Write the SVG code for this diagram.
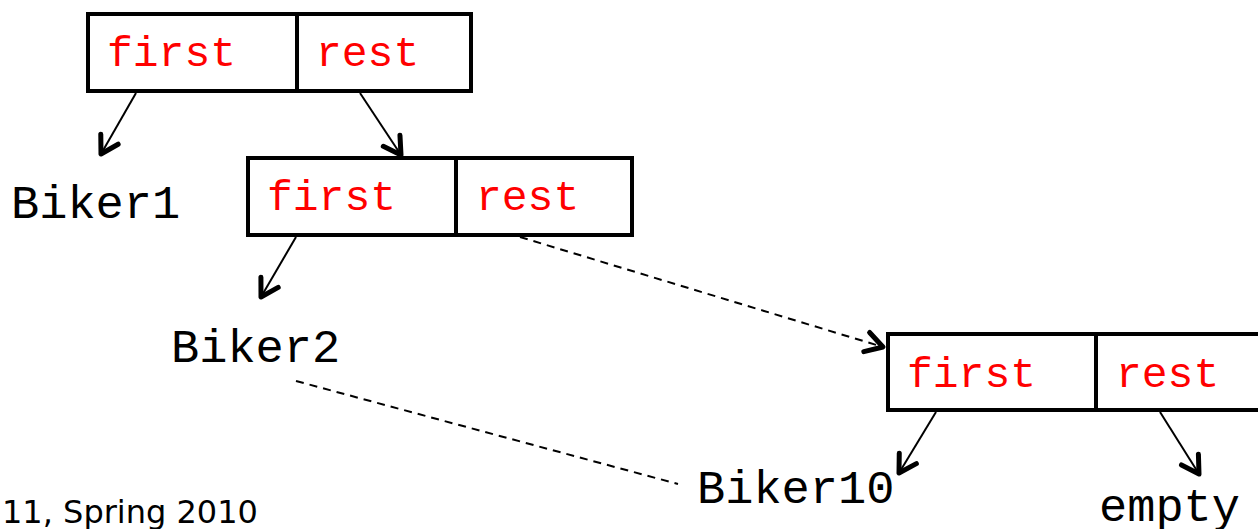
<svg xmlns="http://www.w3.org/2000/svg" width="1258" height="529" viewBox="0 0 1258 529">
<style>
.box{fill:#fff;stroke:#000;stroke-width:4}
.div{stroke:#000;stroke-width:4}
.fld{font-family:"Liberation Mono","Courier New",monospace;font-size:43px;fill:#ff0000}
.lbl{font-family:"Liberation Mono","Courier New",monospace;font-size:47px;fill:#000}
.foot{font-family:"DejaVu Sans",Verdana,sans-serif;font-size:32px;fill:#000}
.ln{stroke:#000;stroke-width:2;fill:none}
.dash{stroke:#000;stroke-width:2;fill:none;stroke-dasharray:8 6}
</style>
<defs>
<marker id="arr" viewBox="-22 -14 26 28" refX="0" refY="0" markerWidth="26" markerHeight="28" markerUnits="userSpaceOnUse" orient="auto">
<path d="M-17,-10 L0,0 L-17,10" fill="none" stroke="#000" stroke-width="5" stroke-linecap="round" stroke-linejoin="round"/>
</marker>
</defs>
<g id="cell1">
<rect class="box" x="88" y="14" width="383" height="77"/>
<line class="div" x1="297" y1="14" x2="297" y2="91"/>
<text class="fld" x="107" y="66">first</text>
<text class="fld" x="316" y="66">rest</text>
</g>
<g id="cell2">
<rect class="box" x="248" y="158" width="384" height="77"/>
<line class="div" x1="456" y1="158" x2="456" y2="235"/>
<text class="fld" x="267" y="210">first</text>
<text class="fld" x="476" y="210">rest</text>
</g>
<g id="cell3">
<rect class="box" x="888" y="334" width="384" height="76"/>
<line class="div" x1="1096" y1="334" x2="1096" y2="410"/>
<text class="fld" x="907" y="387">first</text>
<text class="fld" x="1116" y="387">rest</text>
</g>
<g id="biker1"><text class="lbl" x="11" y="218">Biker1</text></g>
<g id="biker2"><text class="lbl" x="171" y="362">Biker2</text></g>
<g id="biker10"><text class="lbl" x="697" y="503">Biker10</text></g>
<g id="empty"><text class="lbl" x="1099" y="521">empty</text></g>
<g id="footer"><text class="foot" x="2" y="523">11, Spring 2010</text></g>
<g id="connectors">
<line class="ln" x1="136" y1="93" x2="101" y2="154" marker-end="url(#arr)"/>
<line class="ln" x1="360" y1="93" x2="401" y2="155" marker-end="url(#arr)"/>
<line class="ln" x1="296" y1="237" x2="261" y2="297" marker-end="url(#arr)"/>
<line class="dash" x1="520" y1="237" x2="883" y2="347" marker-end="url(#arr)"/>
<line class="dash" x1="296" y1="381" x2="678" y2="484"/>
<line class="ln" x1="936" y1="412" x2="899" y2="473" marker-end="url(#arr)"/>
<line class="ln" x1="1160" y1="412" x2="1199" y2="474" marker-end="url(#arr)"/>
</g>
</svg>
